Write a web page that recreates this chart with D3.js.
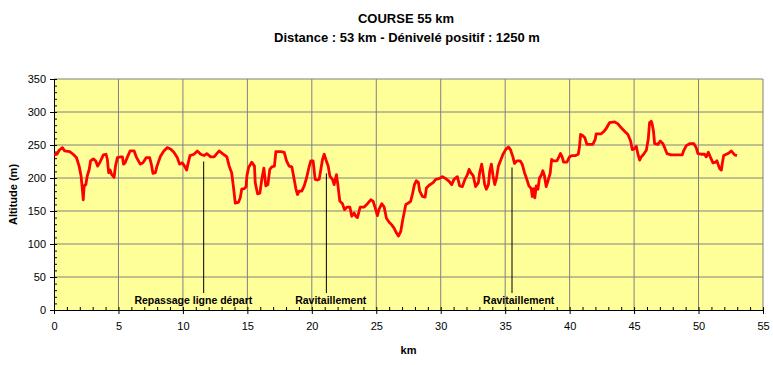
<!DOCTYPE html>
<html>
<head>
<meta charset="utf-8">
<script src="https://cdn.jsdelivr.net/npm/d3@7/dist/d3.min.js"></script>
<style>
  body { margin: 0; background: #fff; }
  text { font-family: Arial, "Liberation Sans", sans-serif; }
</style>
</head>
<body>
<div id="profile"></div>
<script>
(function (d3) {
    'use strict';

    // Profile: distance (km) and altitude (m).
    var kms = [0, 0.23, 0.4, 0.65, 0.83, 1.22, 1.48, 1.74, 1.95, 2.1, 2.2, 2.27, 2.34, 2.47, 2.58, 2.73, 2.84,
        3.05, 3.23, 3.39, 3.57, 3.83, 4.04, 4.14, 4.24, 4.35, 4.48, 4.66, 4.77, 4.92, 5.18, 5.31, 5.39, 5.52,
        5.7, 5.9, 6.22, 6.38, 6.69, 6.9, 7.16, 7.42, 7.55, 7.68, 7.86, 7.99, 8.26, 8.52, 8.78, 9.04, 9.3, 9.56,
        9.74, 9.95, 10.13, 10.29, 10.39, 10.55, 10.86, 11.12, 11.38, 11.64, 11.85, 12.16, 12.42, 12.81, 13.07,
        13.41, 13.59, 13.78, 13.93, 14.06, 14.3, 14.45, 14.56, 14.77, 14.9, 14.97, 15.1, 15.34, 15.55, 15.61,
        15.79, 15.97, 16.12, 16.28, 16.43, 16.59, 16.74, 16.9, 17.1, 17.21, 17.6, 17.86, 18.04, 18.24, 18.45,
        18.63, 18.76, 18.89, 19.02, 19.22, 19.41, 19.59, 19.79, 19.92, 20.1, 20.26, 20.44, 20.57, 20.7, 20.83,
        20.96, 21.09, 21.27, 21.4, 21.6, 21.73, 21.91, 22.02, 22.17, 22.38, 22.53, 22.74, 22.95, 23.1, 23.28,
        23.41, 23.54, 23.75, 24.06, 24.32, 24.57, 24.75, 24.96, 25.09, 25.22, 25.43, 25.61, 25.79, 26.0, 26.2,
        26.38, 26.56, 26.72, 26.9, 27.03, 27.16, 27.29, 27.49, 27.67, 27.8, 27.96, 28.11, 28.27, 28.37, 28.58,
        28.79, 28.89, 29.1, 29.41, 29.61, 29.87, 30.13, 30.39, 30.65, 30.85, 31.03, 31.29, 31.47, 31.68, 31.88,
        32.07, 32.2, 32.33, 32.51, 32.71, 32.92, 33.02, 33.18, 33.28, 33.41, 33.54, 33.7, 33.8, 33.93, 34.06,
        34.19, 34.32, 34.47, 34.65, 34.83, 35.04, 35.25, 35.41, 35.6, 35.72, 35.9, 36.16, 36.32, 36.5, 36.68,
        36.84, 37.02, 37.1, 37.2, 37.3, 37.41, 37.54, 37.66, 37.82, 37.92, 38.05, 38.18, 38.31, 38.49, 38.6,
        38.75, 39.01, 39.17, 39.29, 39.42, 39.53, 39.79, 39.99, 40.2, 40.46, 40.67, 40.77, 40.85, 41.03, 41.18,
        41.34, 41.8, 41.99, 42.06, 42.45, 42.63, 42.84, 43.1, 43.49, 43.75, 44.0, 44.26, 44.52, 44.73, 44.86,
        44.99, 45.17, 45.3, 45.43, 45.56, 45.74, 45.95, 46.1, 46.2, 46.33, 46.41, 46.51, 46.59, 46.85, 47.03,
        47.24, 47.37, 47.55, 47.88, 48.27, 48.74, 48.84, 49.05, 49.31, 49.64, 49.82, 49.95, 50.21, 50.47, 50.6,
        50.76, 50.91, 51.12, 51.33, 51.43, 51.51, 51.64, 51.77, 51.84, 51.95, 52.16, 52.36, 52.54, 52.67, 52.8,
        52.98];
    var alts = [235, 236, 242, 246, 241, 240, 236, 231, 218, 203, 183, 167, 188, 190, 203, 213, 226,
        229, 226, 218, 224, 235, 236, 228, 208, 212, 205, 201, 218, 231, 232, 232, 221, 223,
        232, 241, 241, 232, 221, 223, 231, 231, 221, 207, 208, 218, 233, 241, 246, 244, 239, 231,
        221, 223, 218, 212, 221, 234, 236, 241, 236, 234, 237, 232, 232, 241, 237,
        232, 218, 208, 185, 162, 163, 170, 183, 184, 187, 204, 216, 224, 218, 193,
        176, 177, 198, 215, 188, 190, 213, 217, 218, 240, 240, 239, 226, 218, 217,
        198, 184, 175, 180, 180, 188, 200, 217, 226, 226, 198, 197, 198, 213, 228,
        236, 228, 218, 203, 198, 190, 205, 190, 165, 161, 152, 156, 156, 142, 147,
        142, 140, 156, 156, 161, 167, 165, 152, 143, 153, 161, 156, 139, 133, 129,
        124, 117, 112, 119, 134, 147, 160, 162, 165, 175, 190, 196, 193, 180, 172,
        171, 185, 189, 193, 198, 199, 202, 199, 195, 190, 198, 202, 188, 187, 198,
        205, 213, 208, 204, 187, 193, 208, 221, 208, 190, 183, 190, 210, 221, 203,
        190, 199, 218, 227, 236, 243, 247, 243, 232, 222, 226, 226, 221, 208, 198,
        188, 184, 172, 184, 170, 188, 183, 200, 205, 211, 203, 187, 195, 207, 228,
        226, 226, 232, 237, 232, 224, 224, 232, 234, 234, 236, 248, 266, 264, 261,
        251, 251, 259, 267, 267, 270, 275, 284, 285, 282, 276, 271, 266, 256, 243,
        244, 248, 236, 227, 232, 236, 242, 259, 284, 286, 281, 270, 252, 251, 256,
        252, 246, 237, 235, 235, 235, 241, 249, 252, 252, 246, 237, 236, 236, 232,
        239, 232, 223, 224, 226, 221, 214, 212, 222, 234, 236, 238, 241, 238, 235,
        234];

    // Notes on the profile.
    var noteLabels = ['Repassage ligne départ', 'Ravitaillement', 'Ravitaillement'];
    var noteKms = [11.61, 21.13, 35.53];
    var noteTopAlts = [225, 207, 216];
    var noteLabelKms = [10.81, 21.47, 36.05];

    var xTicks = d3.range(0, 56, 5);
    var yTicks = d3.range(0, 351, 50);

    var title = 'COURSE 55 km';
    var subtitle = 'Distance : 53 km - Dénivelé positif : 1250 m';

    // Dimensions of the chart.
    var W = 773, H = 365;
    var margin = {top: 79, right: 10, bottom: 55, left: 54};
    var width = W - margin.left - margin.right;
    var height = H - margin.top - margin.bottom;

    var x = d3.scaleLinear().domain([0, 55]).range([0, width]);
    var y = d3.scaleLinear().domain([0, 350]).range([height, 0]);

    var svg = d3.select('#profile').append('svg')
        .attr('width', W)
        .attr('height', H);

    svg.append('text')
        .attr('x', 406).attr('y', 23)
        .attr('text-anchor', 'middle')
        .style('font-weight', 'bold').style('font-size', '13px')
        .text(title);
    svg.append('text')
        .attr('x', 407).attr('y', 42)
        .attr('text-anchor', 'middle')
        .style('font-weight', 'bold').style('font-size', '13px')
        .text(subtitle);

    var vis = svg.append('g')
        .attr('transform', 'translate(' + margin.left + ',' + margin.top + ')');

    // Plot area
    vis.append('rect')
        .attr('width', width).attr('height', height)
        .attr('fill', '#ffff99');

    // Grid
    vis.append('g').selectAll('line')
        .data(xTicks.slice(1))
        .enter().append('line')
        .attr('x1', function (d) { return x(d); }).attr('x2', function (d) { return x(d); })
        .attr('y1', 0).attr('y2', height)
        .attr('stroke', '#808080').attr('stroke-width', 1);
    vis.append('g').selectAll('line')
        .data(yTicks.slice(1))
        .enter().append('line')
        .attr('x1', 0).attr('x2', width)
        .attr('y1', function (d) { return y(d); }).attr('y2', function (d) { return y(d); })
        .attr('stroke', '#808080').attr('stroke-width', 1);

    // Minor ticks (inside)
    vis.append('g')
        .attr('transform', 'translate(0,' + height + ')')
        .call(d3.axisTop(x).tickValues(d3.range(0, 56, 1)).tickSize(3).tickFormat(''))
        .call(function (g) { g.select('.domain').remove(); });
    vis.append('g')
        .call(d3.axisRight(y).tickValues(d3.range(0, 351, 10)).tickSize(3).tickFormat(''))
        .call(function (g) { g.select('.domain').remove(); });

    // Axes
    var xAxis = vis.append('g')
        .attr('transform', 'translate(0,' + height + ')')
        .call(d3.axisBottom(x).tickValues(xTicks).tickSize(4).tickSizeOuter(0).tickPadding(8));
    var yAxis = vis.append('g')
        .call(d3.axisLeft(y).tickValues(yTicks).tickSize(4).tickSizeOuter(0).tickPadding(4));
    [xAxis, yAxis].forEach(function (g) {
        g.selectAll('text').style('font-size', '11px').attr('fill', '#000');
        g.select('.domain').attr('stroke', '#000');
    });

    // Profile line
    var profile = kms.map(function (k, i) { return {km: k, alt: alts[i]}; });
    var line = d3.line()
        .x(function (d) { return x(d.km); })
        .y(function (d) { return y(d.alt); });
    vis.append('path')
        .datum(profile)
        .attr('d', line)
        .attr('fill', 'none')
        .attr('stroke', '#ff0000')
        .attr('stroke-width', 2.8)
        .attr('stroke-linejoin', 'round');

    // Notes
    var notes = vis.append('g');
    noteLabels.forEach(function (label, i) {
        notes.append('line')
            .attr('x1', x(noteKms[i])).attr('x2', x(noteKms[i]))
            .attr('y1', y(noteTopAlts[i])).attr('y2', height - 17)
            .attr('stroke', '#000').attr('stroke-width', 1);
        notes.append('text')
            .attr('x', x(noteLabelKms[i])).attr('y', height - 6)
            .attr('text-anchor', 'middle')
            .style('font-weight', 'bold').style('font-size', '10.5px')
            .text(label);
    });

    // Axis titles
    svg.append('text')
        .attr('x', margin.left + x(27.5)).attr('y', 354)
        .attr('text-anchor', 'middle')
        .style('font-weight', 'bold').style('font-size', '11px')
        .text('km');
    svg.append('text')
        .attr('transform', 'translate(17,' + (margin.top + y(175)) + ') rotate(-90)')
        .attr('text-anchor', 'middle')
        .style('font-weight', 'bold').style('font-size', '11px')
        .text('Altitude (m)');

})(d3);
</script>
</body>
</html>
